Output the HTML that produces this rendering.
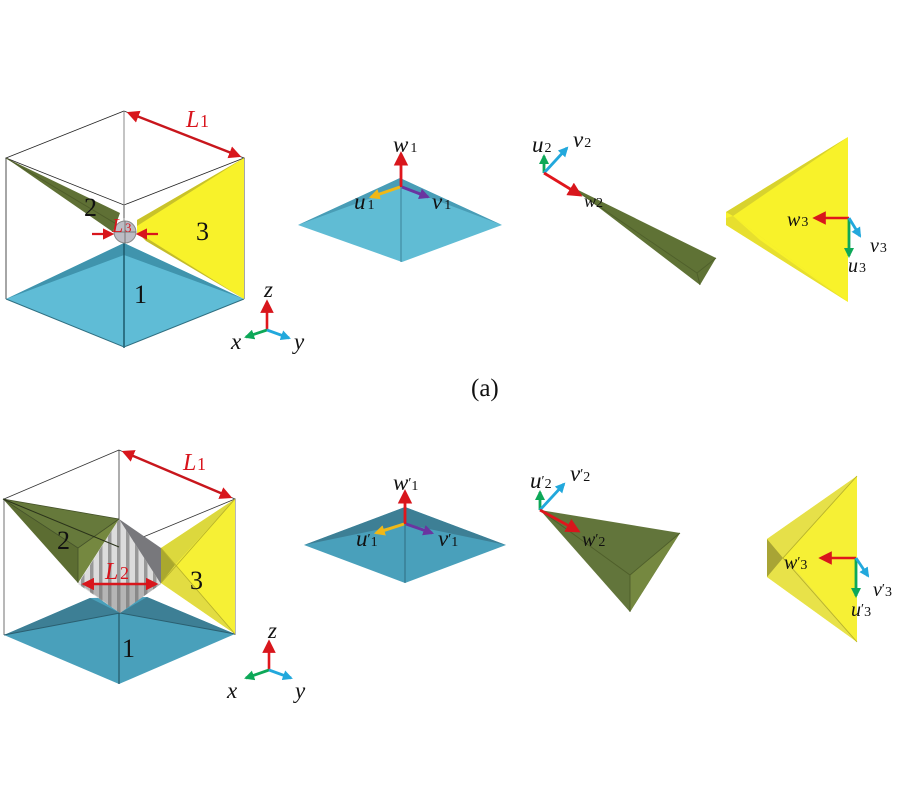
<!DOCTYPE html>
<html><head><meta charset="utf-8"><style>
html,body{margin:0;padding:0;background:#fff}
svg{display:block}
text{font-family:"Liberation Serif",serif;fill:#111}
.i{font-style:italic}
.r{fill:#d8141c}
.n{font-size:26px}
.a{font-size:23px;font-style:italic}
.s{font-size:14px;font-style:normal}
</style></head><body>
<svg width="900" height="800" viewBox="0 0 900 800" xmlns="http://www.w3.org/2000/svg">
<defs>
<filter id="b" x="-5%" y="-5%" width="110%" height="110%"><feGaussianBlur stdDeviation="0.35"/></filter>
<pattern id="st" width="9" height="10" patternUnits="userSpaceOnUse"><rect width="9" height="10" fill="#dcdcdc"/><rect x="0" width="3" height="10" fill="#989898"/><rect x="3" width="1" height="10" fill="#bcbcbc"/></pattern>
<marker id="ar" viewBox="0 0 10 10" refX="8" refY="5" markerWidth="5.2" markerHeight="5.2" orient="auto-start-reverse"><path d="M0 0L10 5L0 10z" fill="#d8141c"/></marker>
<marker id="ag" viewBox="0 0 10 10" refX="8" refY="5" markerWidth="3.6" markerHeight="3.6" orient="auto"><path d="M0 0L10 5L0 10z" fill="#10a858"/></marker>
<marker id="ab" viewBox="0 0 10 10" refX="8" refY="5" markerWidth="3.6" markerHeight="3.6" orient="auto"><path d="M0 0L10 5L0 10z" fill="#22a8dc"/></marker>
<marker id="ay" viewBox="0 0 10 10" refX="8" refY="5" markerWidth="3.6" markerHeight="3.6" orient="auto"><path d="M0 0L10 5L0 10z" fill="#f0b818"/></marker>
<marker id="ap" viewBox="0 0 10 10" refX="8" refY="5" markerWidth="3.6" markerHeight="3.6" orient="auto"><path d="M0 0L10 5L0 10z" fill="#6a35a0"/></marker>
</defs>
<rect width="900" height="800" fill="#fff"/>
<g filter="url(#b)">

<!-- TOP CUBE -->
<g fill="none" stroke="#222" stroke-width=".8">
<path d="M124 111L6 158L124 205L244 158Z"/><path d="M6 158V299M244 158V299"/>
</g>
<path d="M124 111V243" stroke="#888" stroke-width="1"/>
<polygon points="6,299 124,243 244,299 124,347" fill="#5fbcd6"/>
<polygon points="6,299 124,243 244,299 124,255" fill="#3f94ad"/>
<path d="M124 243V348" stroke="#1e5a6c" stroke-width="1.5"/>
<path d="M6 299L124 347L244 299" fill="none" stroke="#2f6f82" stroke-width="1"/>
<polygon points="6,158 120,213 113,232" fill="#5f7034"/>
<path d="M6 158L118 225" stroke="#4e5c2a" stroke-width="1"/>
<polygon points="244,158 137,220 137,233 244,299" fill="#f8f22c"/>
<polygon points="244,158 137,220 137,226" fill="#c9c22a"/>
<polygon points="244,299 137,232 146,241" fill="#c4bc2c"/>
<circle cx="125" cy="232" r="11" fill="#bcbcc4" stroke="#888"/>
<path d="M114 232H136M125 221V243" stroke="#777" stroke-width="1"/>
<path d="M124 205V218" stroke="#555"/>
<!-- L1 arrows -->
<path d="M129 113L239 156" stroke="#c8141c" stroke-width="2.4" marker-start="url(#ar)" marker-end="url(#ar)"/>
<path d="M92 234H112" stroke="#d8141c" stroke-width="2.2" marker-end="url(#ar)"/>
<path d="M158 234H138" stroke="#d8141c" stroke-width="2.2" marker-end="url(#ar)"/>
<!-- axes -->
<path d="M267 330V302" stroke="#e0141c" stroke-width="2.6" marker-end="url(#ar)"/>
<path d="M267 330L246 337" stroke="#10a858" stroke-width="2.8" marker-end="url(#ag)"/>
<path d="M267 330L289 338" stroke="#22a8dc" stroke-width="2.8" marker-end="url(#ab)"/>

<!-- PYRAMID 1 -->
<polygon points="298,225 400,178 502,225 402,262" fill="#61bcd4"/>
<polygon points="298,225 400,178 502,225 401,187" fill="#4a9db6"/>
<path d="M401 187V262" stroke="#3b8299" stroke-width="1"/>
<path d="M401 187V154" stroke="#e0141c" stroke-width="2.8" marker-end="url(#ar)"/>
<path d="M400 187L371 197" stroke="#f0b818" stroke-width="3" marker-end="url(#ay)"/>
<path d="M402 187L428 197" stroke="#6a35a0" stroke-width="3" marker-end="url(#ap)"/>

<!-- OLIVE 1 -->
<polygon points="572,187 716,258 700,285" fill="#5f7236"/>
<path d="M575 190L697 273L700 285M697 273L716 258" stroke="#50602c" stroke-width="1" fill="none"/>
<path d="M544 173V156" stroke="#10a858" stroke-width="2.8" marker-end="url(#ag)"/>
<path d="M544 173L567 148" stroke="#22a8dc" stroke-width="2.8" marker-end="url(#ab)"/>
<path d="M544 173L580 195" stroke="#e0141c" stroke-width="2.8" marker-end="url(#ar)"/>

<!-- YELLOW 1 -->
<polygon points="848,137 848,302 726,225 726,212" fill="#f8f22c"/>
<polygon points="848,137 726,212 733,216" fill="#d8d22e"/>
<polygon points="848,302 726,225 726,218 733,216" fill="#e2da30" opacity=".8"/>
<polygon points="848,302 733,216 760,240" fill="#f8f22c"/>
<path d="M849 218H815" stroke="#e0141c" stroke-width="2.6" marker-end="url(#ar)"/>
<path d="M849 218V256" stroke="#10a858" stroke-width="2.8" marker-end="url(#ag)"/>
<path d="M849 218L860 236" stroke="#22a8dc" stroke-width="2.8" marker-end="url(#ab)"/>

<!-- BOTTOM CUBE -->
<g fill="none" stroke="#333" stroke-width=".8">
<path d="M119 450L4 499L119 547L235 499Z"/><path d="M119 450V520"/>
</g>
<path d="M4 499V635M235 499V635" stroke="#888" stroke-width="1.2"/>
<polygon points="4,635 90,598 147,597 235,634 119,684" fill="#4aa0bb"/>
<polygon points="4,635 90,598 120,613 147,597 235,634 120,613" fill="#3e7f95"/>
<path d="M4 635L120 613L235 634" stroke="#2b5f70" fill="none" stroke-width="1"/>
<path d="M119 613V684" stroke="#245666" stroke-width="1.2"/>
<!-- octahedron -->
<polygon points="119,519 78,584 120,613 161,584" fill="url(#st)"/>
<polygon points="80,584 120,613 161,584" fill="#6c6c6c" opacity=".35"/>
<polygon points="119,519 161,548 161,584" fill="#78787c"/>
<!-- olive -->
<polygon points="3,499 119,519 78,548" fill="#66793a"/>
<polygon points="3,499 78,548 78,583" fill="#5c6d32"/>
<polygon points="78,548 119,519 78,583" fill="#75883f"/>
<path d="M3 499L78 548L119 519M78 548V583M3 499L119 519" stroke="#44512a" stroke-width=".8" fill="none"/>
<path d="M3 499L119 547" stroke="#2b331a" stroke-width="1" fill="none"/>
<!-- yellow -->
<polygon points="235,499 161,548 161,583 235,634" fill="#f6f034"/>
<polygon points="235,499 161,548 175,565" fill="#dcd83e"/>
<polygon points="235,634 161,583 175,565" fill="#e2dc42"/>
<polygon points="161,548 175,565 161,583" fill="#aaa82e"/>
<path d="M235 499L161 583M161 548L235 634" stroke="#b8b22c" stroke-width=".9" fill="none"/>
<!-- arrows -->
<path d="M124 452L230 497" stroke="#c8141c" stroke-width="2.4" marker-start="url(#ar)" marker-end="url(#ar)"/>
<path d="M84 584H156" stroke="#d8141c" stroke-width="2.4" marker-start="url(#ar)" marker-end="url(#ar)"/>
<path d="M269 670V642" stroke="#e0141c" stroke-width="2.6" marker-end="url(#ar)"/>
<path d="M269 670L246 678" stroke="#10a858" stroke-width="2.8" marker-end="url(#ag)"/>
<path d="M269 670L291 678" stroke="#22a8dc" stroke-width="2.8" marker-end="url(#ab)"/>

<!-- PYRAMID 2 -->
<polygon points="304,545 405,507 506,545 405,583" fill="#4aa0bb"/>
<polygon points="304,545 405,507 506,545 405,524" fill="#3e7f95"/>
<path d="M405 524V583" stroke="#2f6d80" stroke-width="1"/>
<path d="M405 524V492" stroke="#e0141c" stroke-width="2.8" marker-end="url(#ar)"/>
<path d="M404 524L376 533" stroke="#f0b818" stroke-width="3" marker-end="url(#ay)"/>
<path d="M406 524L432 533" stroke="#6a35a0" stroke-width="3" marker-end="url(#ap)"/>

<!-- OLIVE 2 -->
<polygon points="540,510 680,533 630,612" fill="#62753a"/>
<polygon points="630,575 680,533 630,612" fill="#75883f"/>
<path d="M540 510L630 575L680 533M630 575V612" stroke="#4f5e2c" fill="none" stroke-width=".9"/>
<path d="M540 510V492" stroke="#10a858" stroke-width="2.8" marker-end="url(#ag)"/>
<path d="M540 510L564 484" stroke="#22a8dc" stroke-width="2.8" marker-end="url(#ab)"/>
<path d="M540 510L578 531" stroke="#e0141c" stroke-width="2.8" marker-end="url(#ar)"/>

<!-- YELLOW 2 -->
<polygon points="857,476 857,642 767,577 767,539" fill="#f6f034"/>
<polygon points="857,476 767,539 783,558" fill="#e6e04a"/>
<polygon points="857,642 767,577 783,558 800,575" fill="#e8e24a"/>
<polygon points="767,539 783,558 767,577" fill="#a8a434"/>
<path d="M857 476L783 558L857 642" stroke="#b8b22c" stroke-width=".9" fill="none"/>
<path d="M856 558H821" stroke="#e0141c" stroke-width="2.6" marker-end="url(#ar)"/>
<path d="M856 558V596" stroke="#10a858" stroke-width="2.8" marker-end="url(#ag)"/>
<path d="M856 558L868 576" stroke="#22a8dc" stroke-width="2.8" marker-end="url(#ab)"/>
</g>

<!-- LABELS -->
<text class="r i" x="186" y="127" font-size="24">L</text><text class="r" x="200" y="127" font-size="18">1</text>
<text class="n" x="84" y="216">2</text><text class="n" x="196" y="240">3</text><text class="n" x="134" y="303">1</text>
<text class="r i" x="112" y="232" font-size="20">L</text><text class="r" x="125" y="232" font-size="13">3</text>
<text class="a" x="264" y="297" fill="#333">z</text><text class="a" x="231" y="349">x</text><text class="a" x="294" y="349">y</text>

<text class="a" x="393" y="152">w<tspan class="s" dx="2">1</tspan></text>
<text class="a" x="354" y="209">u<tspan class="s" dx="2">1</tspan></text>
<text class="a" x="432" y="209">v<tspan class="s" dx="2">1</tspan></text>
<text class="a" x="532" y="152">u<tspan class="s" dx="1">2</tspan></text>
<text class="a" x="573" y="147">v<tspan class="s" dx="1">2</tspan></text>
<text class="a" x="584" y="207" style="font-size:18px">w<tspan class="s">2</tspan></text>
<text class="a" x="787" y="226" style="font-size:20px">w<tspan class="s" dx="1">3</tspan></text>
<text class="a" x="870" y="252" style="font-size:20px">v<tspan class="s" dx="1">3</tspan></text>
<text class="a" x="848" y="272" style="font-size:20px">u<tspan class="s" dx="1">3</tspan></text>

<text x="471" y="396" font-size="25">(a)</text>

<text class="r i" x="183" y="470" font-size="24">L</text><text class="r" x="197" y="470" font-size="18">1</text>
<text class="n" x="57" y="549">2</text><text class="n" x="190" y="589">3</text><text class="n" x="122" y="657">1</text>
<text class="r i" x="105" y="579" font-size="24">L</text><text class="r" x="120" y="579" font-size="18">2</text>
<text class="a" x="268" y="638">z</text><text class="a" x="227" y="698">x</text><text class="a" x="295" y="698">y</text>

<text class="a" x="393" y="490">w<tspan class="s" dy="-3">′</tspan><tspan class="s" dy="3">1</tspan></text>
<text class="a" x="356" y="546">u<tspan class="s" dy="-3">′</tspan><tspan class="s" dy="3">1</tspan></text>
<text class="a" x="438" y="546">v<tspan class="s" dy="-3">′</tspan><tspan class="s" dy="3">1</tspan></text>
<text class="a" x="530" y="488">u<tspan class="s" dy="-3">′</tspan><tspan class="s" dy="3">2</tspan></text>
<text class="a" x="570" y="481">v<tspan class="s" dy="-3">′</tspan><tspan class="s" dy="3">2</tspan></text>
<text class="a" x="582" y="546" style="font-size:20px">w<tspan class="s" dy="-3">′</tspan><tspan class="s" dy="3">2</tspan></text>
<text class="a" x="784" y="569" style="font-size:20px">w<tspan class="s" dy="-3">′</tspan><tspan class="s" dy="3">3</tspan></text>
<text class="a" x="873" y="596" style="font-size:20px">v<tspan class="s" dy="-3">′</tspan><tspan class="s" dy="3">3</tspan></text>
<text class="a" x="851" y="616" style="font-size:20px">u<tspan class="s" dy="-3">′</tspan><tspan class="s" dy="3">3</tspan></text>
</svg>
</body></html>
